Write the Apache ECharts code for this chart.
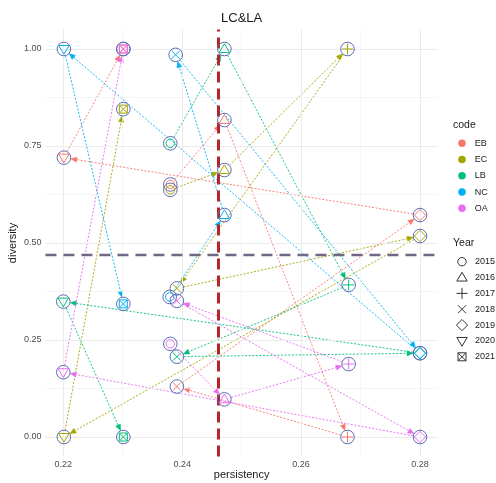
<!DOCTYPE html>
<html><head><meta charset="utf-8">
<script src="https://cdn.jsdelivr.net/npm/echarts@6/dist/echarts.min.js"></script>
<style>html,body{margin:0;padding:0;background:#fff}#c{width:496px;height:483px}</style>
</head><body><div id="c"></div>
<script>
// ---- data ----
const codes = ['EB', 'EC', 'LB', 'NC', 'OA'];
const years = [2015, 2016, 2017, 2018, 2019, 2020, 2021];
const ebPersistency = [0.2380, 0.2471, 0.2678, 0.2391, 0.2800, 0.2201, 0.2301];
const ebDiversity   = [0.651, 0.817, 0.000, 0.130, 0.572, 0.720, 1.000];
const ecPersistency = [0.2380, 0.2471, 0.2678, 0.2391, 0.2800, 0.2201, 0.2301];
const ecDiversity   = [0.637, 0.688, 1.000, 0.383, 0.518, 0.000, 0.845];
const lbPersistency = [0.2380, 0.2471, 0.2680, 0.2391, 0.2800, 0.2200, 0.2301];
const lbDiversity   = [0.757, 1.000, 0.392, 0.207, 0.216, 0.349, 0.000];
const ncPersistency = [0.2379, 0.2471, null, 0.2389, 0.2800, 0.2201, 0.2301];
const ncDiversity   = [0.361, 0.572, null, 0.985, 0.216, 1.000, 0.343];
const oaPersistency = [0.2380, 0.2471, 0.2680, 0.2391, 0.2800, 0.2200, 0.2301];
const oaDiversity   = [0.240, 0.097, 0.188, 0.351, 0.000, 0.167, 1.000];
const xTicks = [0.22, 0.24, 0.26, 0.28];
const xMinorTicks = [0.23, 0.25, 0.27];
const yTicks = [0, 0.25, 0.5, 0.75, 1];
const yMinorTicks = [0.125, 0.375, 0.625, 0.875];
const persistencyCut = 0.2461;
const diversityCut = 0.469;

// ---- styles ----
const codeColors = ['#F8766D', '#A3A500', '#00BF7D', '#00B0F6', '#E76BF3'];
const ringColor = '#5D6DB3';
const FONT = "'Liberation Sans', Arial, sans-serif";
const xs = [ebPersistency, ecPersistency, lbPersistency, ncPersistency, oaPersistency];
const ys = [ebDiversity, ecDiversity, lbDiversity, ncDiversity, oaDiversity];

function shapeChildren(k, cx, cy, color) {
  const st = { fill: 'none', stroke: color, lineWidth: 1 };
  const L = (x1, y1, x2, y2) => ({ type: 'line', shape: { x1, y1, x2, y2 }, style: { stroke: color, lineWidth: 1, fill: null } });
  switch (k) {
    case 0: return [{ type: 'circle', shape: { cx, cy, r: 4.2 }, style: st }];
    case 1: return [{ type: 'polygon', shape: { points: [[cx, cy - 5.3], [cx + 5.2, cy + 3.5], [cx - 5.2, cy + 3.5]] }, style: st }];
    case 2: return [L(cx - 5.5, cy, cx + 5.5, cy), L(cx, cy - 5.5, cx, cy + 5.5)];
    case 3: return [L(cx - 4, cy - 4, cx + 4, cy + 4), L(cx - 4, cy + 4, cx + 4, cy - 4)];
    case 4: return [{ type: 'polygon', shape: { points: [[cx, cy - 5.6], [cx + 5.6, cy], [cx, cy + 5.6], [cx - 5.6, cy]] }, style: st }];
    case 5: return [{ type: 'polygon', shape: { points: [[cx, cy + 5.3], [cx + 5.2, cy - 3.5], [cx - 5.2, cy - 3.5]] }, style: st }];
    case 6: return [{ type: 'rect', shape: { x: cx - 4, y: cy - 4, width: 8, height: 8 }, style: st },
                    L(cx - 4, cy - 4, cx + 4, cy + 4), L(cx - 4, cy + 4, cx + 4, cy - 4)];
  }
  return [];
}

function arrowChildren(p1, p2, color) {
  const dx = p2[0] - p1[0], dy = p2[1] - p1[1], len = Math.hypot(dx, dy);
  if (len < 18) return [];
  const ux = dx / len, uy = dy / len;
  const gap = 7, ah = 6, aw = 2.6;
  const sx = p1[0] + ux * gap, sy = p1[1] + uy * gap;
  const ex = p2[0] - ux * gap, ey = p2[1] - uy * gap;
  const bx = ex - ux * ah, by = ey - uy * ah;
  return [
    { type: 'line', shape: { x1: sx, y1: sy, x2: bx, y2: by }, style: { stroke: color, lineWidth: 0.9, lineDash: [2, 1.6], fill: null } },
    { type: 'polygon', shape: { points: [[ex, ey], [bx - uy * aw, by + ux * aw], [bx + uy * aw, by - ux * aw]] }, style: { fill: color, stroke: color, lineWidth: 0.5 } }
  ];
}

const series = [];
// grid lines + reference lines
const gridStyle = { color: '#EBEBEB', width: 1, type: 'solid' };
const minorStyle = { color: '#F1F1F1', width: 0.7, type: 'solid' };
series.push({
  type: 'scatter', data: [], silent: true, z: 1,
  markLine: {
    silent: true, symbol: ['none', 'none'], label: { show: false }, animation: false, precision: 6,
    data: [].concat(
      xMinorTicks.map(v => ({ xAxis: v, lineStyle: minorStyle })),
      yMinorTicks.map(v => ({ yAxis: v, lineStyle: minorStyle })),
      xTicks.map(v => ({ xAxis: v, lineStyle: gridStyle })),
      yTicks.map(v => ({ yAxis: v, lineStyle: gridStyle })),
      [{ yAxis: diversityCut, lineStyle: { color: '#6F6784', width: 2.4, type: [11, 7] } },
       { xAxis: persistencyCut, lineStyle: { color: '#B3262B', width: 3, type: [11, 6] } }]
    )
  }
});

codes.forEach((c, ci) => {
  const pts = [];
  years.forEach((yr, yi) => { if (xs[ci][yi] != null) pts.push([xs[ci][yi], ys[ci][yi], yi]); });
  const segs = [];
  for (let i = 0; i + 1 < pts.length; i++) segs.push([pts[i][0], pts[i][1], pts[i + 1][0], pts[i + 1][1]]);
  series.push({
    name: c, type: 'custom', z: 3, itemStyle: { color: codeColors[ci] },
    encode: { x: [0, 2], y: [1, 3] },
    data: segs,
    renderItem: (params, api) => {
      const p1 = api.coord([api.value(0), api.value(1)]);
      const p2 = api.coord([api.value(2), api.value(3)]);
      return { type: 'group', children: arrowChildren(p1, p2, codeColors[ci]) };
    }
  });
  series.push({
    name: c, type: 'custom', z: 5, itemStyle: { color: codeColors[ci] },
    encode: { x: 0, y: 1 },
    data: pts,
    renderItem: (params, api) => {
      const p = api.coord([api.value(0), api.value(1)]);
      const k = api.value(2);
      return { type: 'group', children: [
        { type: 'circle', shape: { cx: p[0], cy: p[1], r: 6.8 }, style: { fill: 'none', stroke: ringColor, lineWidth: 1 } }
      ].concat(shapeChildren(k, p[0], p[1], codeColors[ci])) };
    }
  });
});

// Year legend drawn as graphics
const yearGraphics = [];
years.forEach((yr, i) => {
  const cy = 261.7 + i * 15.85;
  yearGraphics.push({ type: 'group', children: shapeChildren(i, 462, cy, '#333333'), silent: true });
  yearGraphics.push({ type: 'text', x: 475, y: cy, silent: true,
    style: { text: String(yr), font: '9px ' + FONT, fill: '#1A1A1A', textAlign: 'left', textVerticalAlign: 'middle' } });
});

const chart = echarts.init(document.getElementById('c'), null, { renderer: 'canvas' });
chart.setOption({
  animation: false,
  backgroundColor: '#ffffff',
  grid: { left: 45.45, right: 58.15, top: 29.6, bottom: 26.6, containLabel: false, outerBoundsMode: 'none' },
  xAxis: {
    type: 'value', min: 0.217, max: 0.283,
    name: 'persistency', nameLocation: 'middle', nameGap: 13.5, nameMoveOverlap: false,
    nameTextStyle: { fontFamily: FONT, fontSize: 11, color: '#1A1A1A', verticalAlign: 'top' },
    axisLine: { show: false }, axisTick: { show: false, customValues: xTicks },
    splitLine: { show: false },
    axisLabel: { customValues: xTicks, formatter: v => v.toFixed(2), fontFamily: FONT, fontSize: 9, color: '#4D4D4D', margin: 4 }
  },
  yAxis: {
    type: 'value', min: -0.05, max: 1.05,
    name: 'diversity', nameLocation: 'middle', nameGap: 27, nameRotate: 90, nameMoveOverlap: false,
    nameTextStyle: { fontFamily: FONT, fontSize: 11, color: '#1A1A1A' },
    axisLine: { show: false }, axisTick: { show: false, customValues: yTicks },
    splitLine: { show: false },
    axisLabel: { customValues: yTicks, formatter: v => v.toFixed(2), fontFamily: FONT, fontSize: 9, color: '#4D4D4D', margin: 4 }
  },
  legend: {
    orient: 'vertical', left: 453.25, top: 133.3, icon: 'circle',
    itemWidth: 7.5, itemHeight: 7.5, itemGap: 6.25, selectedMode: false,
    data: codes,
    textStyle: { fontFamily: FONT, fontSize: 9, color: '#1A1A1A', lineHeight: 10, padding: [0, 0, 0, 4] }
  },
  graphic: [
    { type: 'text', x: 241.65, y: 18, silent: true,
      style: { text: 'LC&LA', font: '13px ' + FONT, fill: '#1A1A1A', textAlign: 'center', textVerticalAlign: 'middle' } },
    { type: 'text', x: 453, y: 125, silent: true,
      style: { text: 'code', font: '10.5px ' + FONT, fill: '#1A1A1A', textAlign: 'left', textVerticalAlign: 'middle' } },
    { type: 'text', x: 453, y: 243, silent: true,
      style: { text: 'Year', font: '10.5px ' + FONT, fill: '#1A1A1A', textAlign: 'left', textVerticalAlign: 'middle' } }
  ].concat(yearGraphics),
  series: series
});
</script></body></html>
